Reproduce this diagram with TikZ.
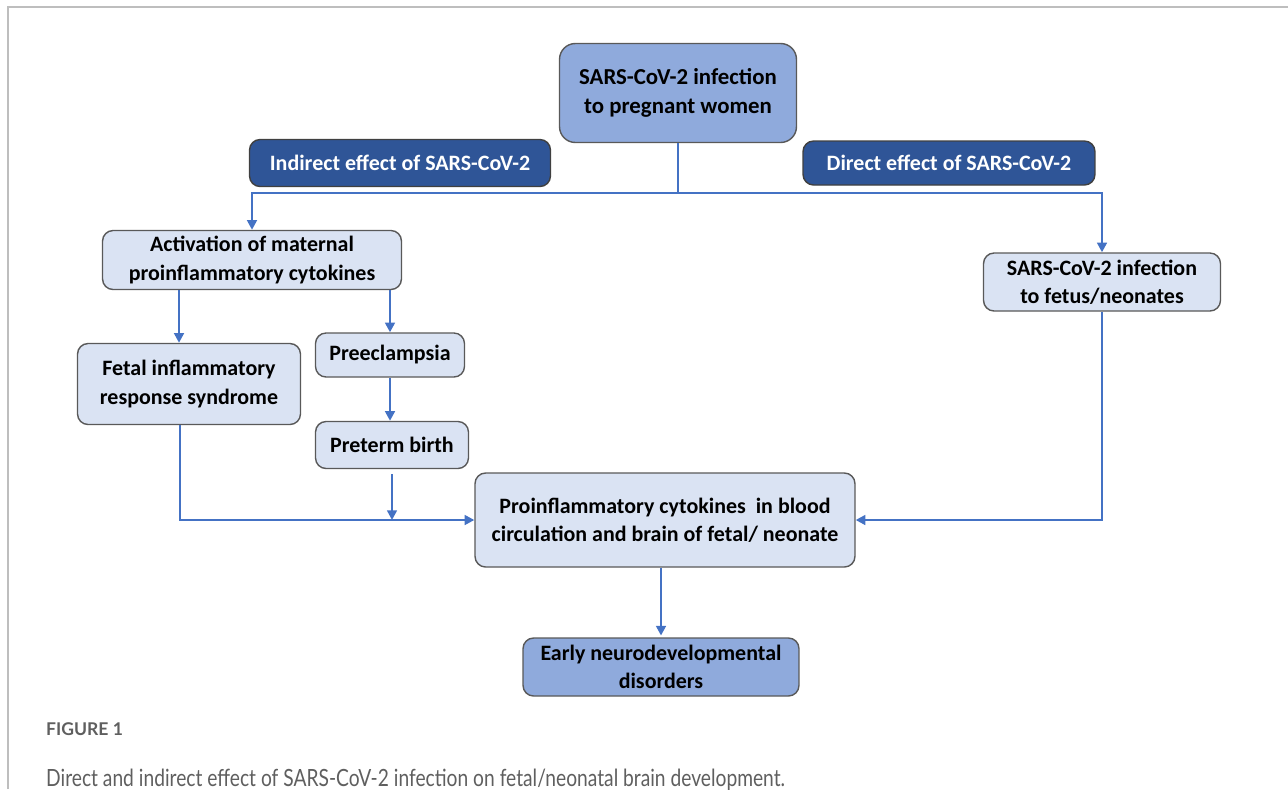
\documentclass[tikz,border=0pt]{standalone}
\usepackage{fontspec}
\setmainfont{Carlito}
\newfontfamily\capfont[FakeStretch=0.81]{Lato}
\newfontfamily\figfont{Lato}
\usepackage{tikz}
\usetikzlibrary{arrows.meta,positioning}
\tikzset{every node/.append style={align=center}}
\definecolor{lightbox}{RGB}{218, 227, 243}
\definecolor{midbox}{RGB}{143, 170, 220}
\definecolor{darkbox}{RGB}{47, 85, 151}
\definecolor{arrowcol}{RGB}{68, 114, 196}
\definecolor{bordercol}{RGB}{89, 89, 89}
\definecolor{framegray}{RGB}{190, 190, 190}
\definecolor{captext}{RGB}{95, 95, 95}

\begin{document}
\begin{tikzpicture}[
    x=0.02cm, y=-0.02cm,
    box/.style={draw=bordercol, line width=0.8pt, fill=lightbox, rounded corners=6pt, inner sep=0pt, font=\bfseries\fontsize{12.5}{16}\selectfont},
    keybox/.style={box, fill=midbox},
    effect/.style={box, fill=darkbox, draw=black!75, text=white},
    conn/.style={arrowcol, line width=1.4pt},
    arrow/.style={conn, -{Triangle[length=5.5pt,width=5.5pt]}},
    caption/.style={anchor=base west, text=captext}
]
    \useasboundingbox (0,0) rectangle (1288,789);
    \draw[framegray, line width=0.8pt] (8,789) -- (8,7) -- (1288,7);

    % Main boxes
    \node[keybox, rounded corners=9pt, minimum width=4.74cm, minimum height=1.98cm, font=\bfseries\fontsize{13}{16.5}\selectfont] (women) at (678,93) {SARS-CoV-2 infection\\to pregnant women};
    \node[effect, minimum width=6.02cm, minimum height=0.94cm] (indirect) at (400,163) {Indirect effect of SARS-CoV-2};
    \node[effect, minimum width=5.84cm, minimum height=0.88cm] (direct) at (949,163) {Direct effect of SARS-CoV-2};
    \node[box, minimum width=5.98cm, minimum height=1.18cm] (activation) at (252,260) {Activation of maternal\\proinflammatory cytokines};
    \node[box, minimum width=4.74cm, minimum height=1.16cm] (fetus) at (1102,282) {SARS-CoV-2 infection\\to fetus/neonates};
    \node[box, minimum width=4.46cm, minimum height=1.62cm] (firs) at (189,384) {Fetal inflammatory\\response syndrome};
    \node[box, minimum width=2.98cm, minimum height=0.88cm] (preeclampsia) at (390,355) {Preeclampsia};
    \node[box, minimum width=3.06cm, minimum height=0.94cm] (preterm) at (392,445) {Preterm birth};
    \node[box, minimum width=7.6cm, minimum height=1.88cm] (cytokines) at (665,520) {Proinflammatory cytokines\ \ in blood\\circulation and brain of fetal/ neonate};
    \node[keybox, minimum width=5.52cm, minimum height=1.16cm] (ndd) at (661,667) {Early neurodevelopmental\\disorders};

    % Split below the infection
    \draw[conn] (women.south) -- ++(0,50) coordinate (split);
    \draw[arrow] (split) -| (activation.north);
    \draw[arrow] (split) -| (fetus.north);

    % Indirect path
    \draw[arrow] ([xshift=-1.46cm]activation.south) -- ([xshift=-1.46cm]activation.south |- firs.north);
    \draw[arrow] (activation.south -| preeclampsia.north) -- (preeclampsia.north);
    \draw[arrow] (preeclampsia.south) -- (preeclampsia.south |- preterm.north);
    \draw[arrow] ([xshift=-0.18cm]firs.south) |- (cytokines.west);
    \draw[arrow] ([yshift=-0.1cm]preterm.south) -- (preterm.south |- cytokines.west);

    % Direct path
    \draw[arrow] (fetus.south) |- (cytokines.east);

    % Outcome
    \draw[arrow, shorten >=1pt] (cytokines.south -| ndd.north) -- (ndd.north);

    % Caption
    \node[caption, font=\figfont\bfseries\fontsize{10}{12}\selectfont] (figlabel) at (40,735) {FIGURE 1};
    \node[caption, font=\capfont\fontsize{13.5}{16}\selectfont] (figcaption) at (40,786) {Direct and indirect effect of SARS-CoV-2 infection on fetal/neonatal brain development.};
\end{tikzpicture}
\end{document}
